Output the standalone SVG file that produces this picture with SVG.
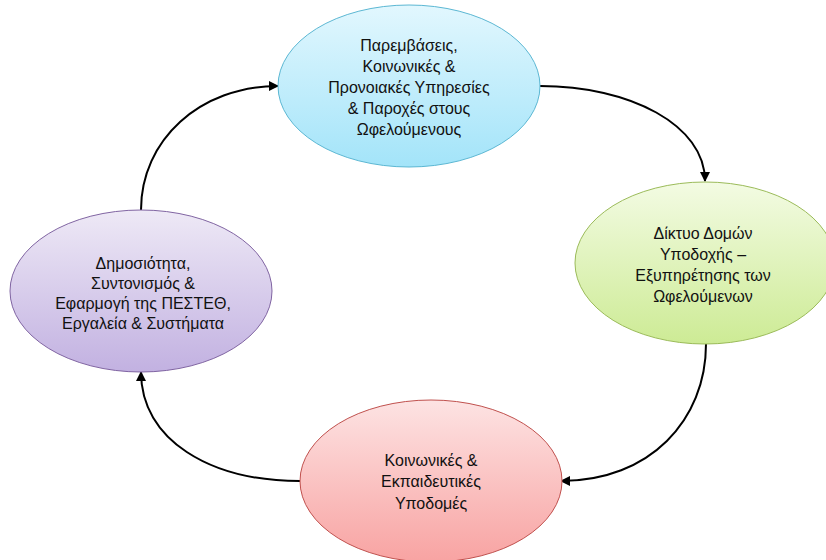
<svg xmlns="http://www.w3.org/2000/svg" width="826" height="560" viewBox="0 0 826 560">
<style>
.lbl{font-family:"Liberation Sans","Open Sans",sans-serif;font-size:16px;fill:#111;text-anchor:middle}
.con{fill:none;stroke:#000;stroke-width:2;marker-end:url(#arr)}
</style>
<defs>
<linearGradient id="gBlue" x1="0" y1="0" x2="0" y2="1"><stop offset="0" stop-color="#e2f7fe"/><stop offset="1" stop-color="#a3e4f9"/></linearGradient>
<linearGradient id="gGreen" x1="0" y1="0" x2="0" y2="1"><stop offset="0" stop-color="#f3fbe3"/><stop offset="1" stop-color="#cdeb95"/></linearGradient>
<linearGradient id="gPurple" x1="0" y1="0" x2="0" y2="1"><stop offset="0" stop-color="#eee9f6"/><stop offset="1" stop-color="#c2b1e1"/></linearGradient>
<linearGradient id="gRed" x1="0" y1="0" x2="0" y2="1"><stop offset="0" stop-color="#fde3e3"/><stop offset="1" stop-color="#f8a3a2"/></linearGradient>
<marker id="arr" viewBox="0 0 10 10" refX="9" refY="5" markerWidth="5" markerHeight="5" orient="auto" markerUnits="strokeWidth"><path d="M0,0 L10,5 L0,10 z" fill="#000"/></marker>
</defs>
<rect width="826" height="560" fill="#fff"/>
<g id="connectors">
<path class="con" d="M141,210 C141,140 200,86 278,86"/>
<path class="con" d="M540,86 C630,86 705,125 705,181"/>
<path class="con" d="M706,344 C706,420 650,481 561,481"/>
<path class="con" d="M300,481 C210,481 141,440 141,372"/>
</g>
<g id="n1">
<ellipse cx="409" cy="86" rx="131" ry="81" fill="url(#gBlue)" stroke="#5bb7d3" stroke-width="1"/>
<text class="lbl" x="409" y="51">Παρεμβάσεις,</text>
<text class="lbl" x="409" y="72">Κοινωνικές &amp;</text>
<text class="lbl" x="409" y="93">Προνοιακές Υπηρεσίες</text>
<text class="lbl" x="409" y="114">&amp; Παροχές στους</text>
<text class="lbl" x="409" y="135">Ωφελούμενους</text>
</g>
<g id="n2">
<ellipse cx="705" cy="263" rx="130" ry="81" fill="url(#gGreen)" stroke="#9bbb59" stroke-width="1"/>
<text class="lbl" x="703" y="239">Δίκτυο Δομών</text>
<text class="lbl" x="703" y="260">Υποδοχής –</text>
<text class="lbl" x="703" y="281">Εξυπηρέτησης των</text>
<text class="lbl" x="703" y="302">Ωφελούμενων</text>
</g>
<g id="n3">
<ellipse cx="431" cy="481" rx="131" ry="81" fill="url(#gRed)" stroke="#c0504d" stroke-width="1"/>
<text class="lbl" x="431" y="466">Κοινωνικές &amp;</text>
<text class="lbl" x="431" y="487">Εκπαιδευτικές</text>
<text class="lbl" x="431" y="509">Υποδομές</text>
</g>
<g id="n4">
<ellipse cx="141" cy="291" rx="131" ry="81" fill="url(#gPurple)" stroke="#8064a2" stroke-width="1"/>
<text class="lbl" x="143" y="269">Δημοσιότητα,</text>
<text class="lbl" x="143" y="289">Συντονισμός &amp;</text>
<text class="lbl" x="143" y="309">Εφαρμογή της ΠΕΣΤΕΘ,</text>
<text class="lbl" x="143" y="329">Εργαλεία &amp; Συστήματα</text>
</g>
</svg>
